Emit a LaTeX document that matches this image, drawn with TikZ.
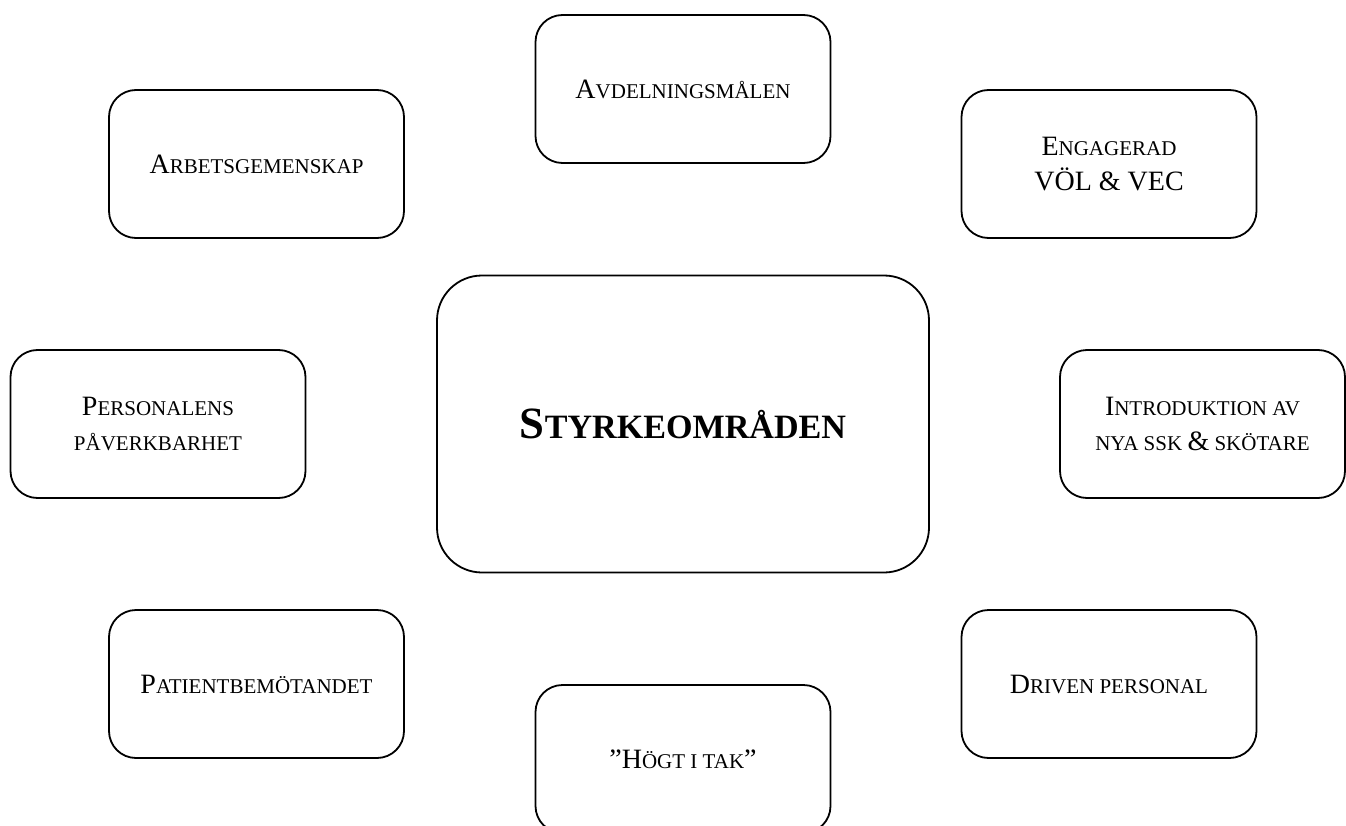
\documentclass[tikz,border=0pt]{standalone}
\usepackage{fontspec}
\setmainfont{Liberation Serif}
% faked small caps: first letters at full size, the rest in the smaller size
\newcommand\capB[1]{{\fontsize{28}{35}\selectfont #1}}
\newcommand\capT[1]{{\fontsize{44.7}{52}\selectfont #1}}
\tikzset{
  area/.style={draw=black, line width=1.8pt, rounded corners=27pt,
    minimum width=295pt, minimum height=148pt, inner sep=0pt,
    align=center, font=\fontsize{21}{35}\selectfont},
  core/.style={draw=black, line width=1.8pt, rounded corners=45pt,
    minimum width=492pt, minimum height=297pt, inner sep=0pt,
    align=center, font=\fontsize{34.1}{40}\selectfont\bfseries}
}
\begin{document}
\begin{tikzpicture}[x=1pt, y=-1pt]
  \clip (0,0) rectangle (1346,826);
  \fill[white] (0,0) rectangle (1346,826);
  \node[core] (mid) at (683,424) {\capT{S}TYRKEOMRÅDEN};
  \node[area] (avd) at (683,89) {\capB{A}VDELNINGSMÅLEN};
  \node[area] (arb) at (256.5,164) {\capB{A}RBETSGEMENSKAP};
  \node[area] (eng) at (1109,164) {\capB{E}NGAGERAD\\\capB{VÖL \& VEC}};
  \node[area] (pers) at (158,424) {\capB{P}ERSONALENS\\PÅVERKBARHET};
  \node[area, minimum width=285pt] (intro) at (1202.5,424) {\capB{I}NTRODUKTION AV\\NYA SSK \capB{\&} SKÖTARE};
  \node[area] (pat) at (256.5,684) {\capB{P}ATIENTBEMÖTANDET};
  \node[area] (driv) at (1109,684) {\capB{D}RIVEN PERSONAL};
  \node[area] (hogt) at (683,759) {\capB{”H}ÖGT I TAK\capB{”}};
\end{tikzpicture}
\end{document}
